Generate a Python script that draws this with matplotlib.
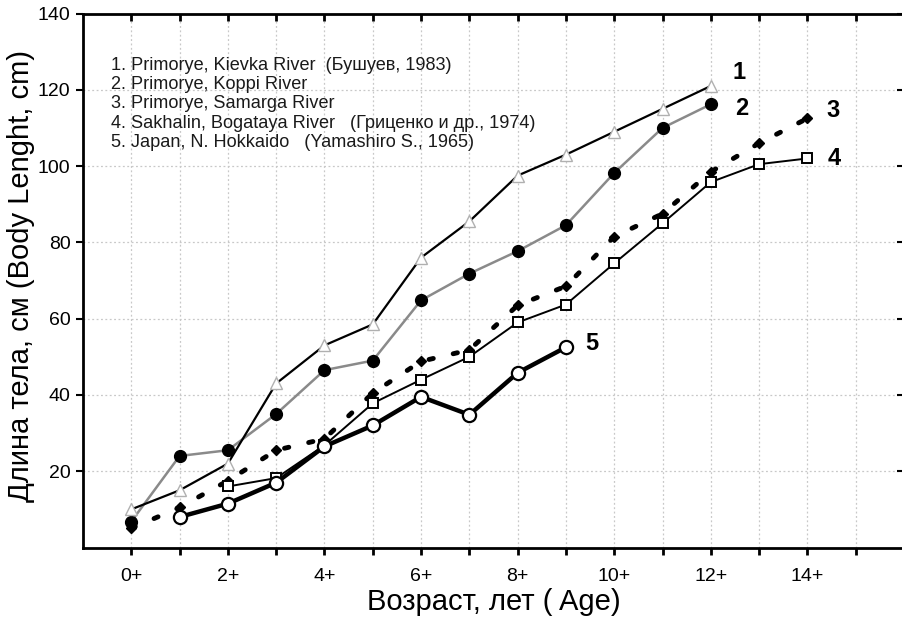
import matplotlib.pyplot as plt

plt.rcParams["font.family"] = ["Liberation Sans", "DejaVu Sans"]

# age groups (0+ .. 14+)
age1 = list(range(0, 13))
len1 = [10, 15, 22, 43, 53, 58.5, 76, 85.5, 97.5, 103, 109, 115, 121]

age2 = list(range(0, 13))
len2 = [6.8, 24, 25.5, 35, 46.5, 49, 64.8, 71.8, 77.7, 84.5, 98.2, 110, 116.2]

age3 = list(range(0, 15))
len3 = [5, 10.5, 17.5, 25.5, 28.5, 40.5, 48.8, 51.8, 63.5, 68.5, 81.5, 87.5, 98.5, 106, 112.5]

age4 = list(range(2, 15))
len4 = [16, 18.2, 26.8, 37.8, 44, 50, 59, 63.7, 74.5, 85, 95.8, 100.5, 102]

age5 = list(range(1, 10))
len5 = [8, 11.5, 17, 26.5, 32, 39.5, 34.8, 45.8, 52.5]

legend_lines = [
    "1. Primorye, Kievka River  (Бушуев, 1983)",
    "2. Primorye, Koppi River",
    "3. Primorye, Samarga River",
    "4. Sakhalin, Bogataya River   (Гриценко и др., 1974)",
    "5. Japan, N. Hokkaido   (Yamashiro S., 1965)",
]

fig = plt.figure(figsize=(9.02, 6.17), dpi=100)
ax = fig.add_axes([83 / 902, 69.5 / 617, (904 - 83) / 902, 534 / 617])

ax.plot(age3, len3, color="black", lw=3.5, linestyle=(0, (0.9, 4.2)),
        dash_capstyle="round", marker="D", ms=5.5, mfc="black", mec="black", zorder=3)
ax.plot(age2, len2, color="#8a8a8a", lw=1.8, marker="o", ms=8.5,
        mfc="black", mec="black", zorder=4)
ax.plot(age1, len1, color="black", lw=1.6, marker="^", ms=8,
        mfc="white", mec="#b0b0b0", mew=1.0, zorder=4)
ax.plot(age4, len4, color="black", lw=1.4, marker="s", ms=7,
        mfc="white", mec="black", mew=1.4, zorder=5)
ax.plot(age5, len5, color="black", lw=3.2, marker="o", ms=9.5,
        mfc="white", mec="black", mew=1.6, zorder=6)

# curve numbers
for num, x, y in [("1", 12.45, 124.5), ("2", 12.5, 115), ("3", 14.4, 114.5),
                  ("4", 14.42, 102), ("5", 9.4, 53.5)]:
    ax.text(x, y, num, fontsize=17, fontweight="bold", ha="left", va="center", zorder=7)

ax.text(-0.43, 116.3, "\n".join(legend_lines), fontsize=13.1, color="#1a1a1a",
        ha="left", va="center", linespacing=1.17, zorder=7)

ax.set_xlim(-1, 16)
ax.set_ylim(0, 140)
ax.set_xticks(range(0, 16))
ax.set_xticklabels([f"{i}+" if i % 2 == 0 else "" for i in range(0, 16)])
ax.set_yticks(range(20, 141, 20))

ax.grid(True, color="#c8c8c8", linestyle=(0, (1.5, 2)), lw=0.9)
ax.set_axisbelow(True)

for s in ["left", "bottom", "top"]:
    ax.spines[s].set_linewidth(2)
ax.spines["right"].set_visible(False)

ax.tick_params(axis="x", which="both", direction="out", length=5, width=2,
               labelsize=14, top=True, pad=10)
ax.tick_params(axis="y", direction="out", length=5, width=1.5, labelsize=14,
               right=True, pad=4)
for t in ax.xaxis.get_major_ticks():
    t.tick2line.set_marker(3)
for t in ax.yaxis.get_major_ticks():
    t.tick2line.set_marker(0)

ax.set_xlabel("Возраст, лет ( Age)", fontsize=21, labelpad=2)
ax.set_ylabel("Длина тела, см (Body Lenght, cm)", fontsize=21)
ax.yaxis.set_label_coords(-0.0585, 0.508)

fig.savefig("out.png", dpi=100)
